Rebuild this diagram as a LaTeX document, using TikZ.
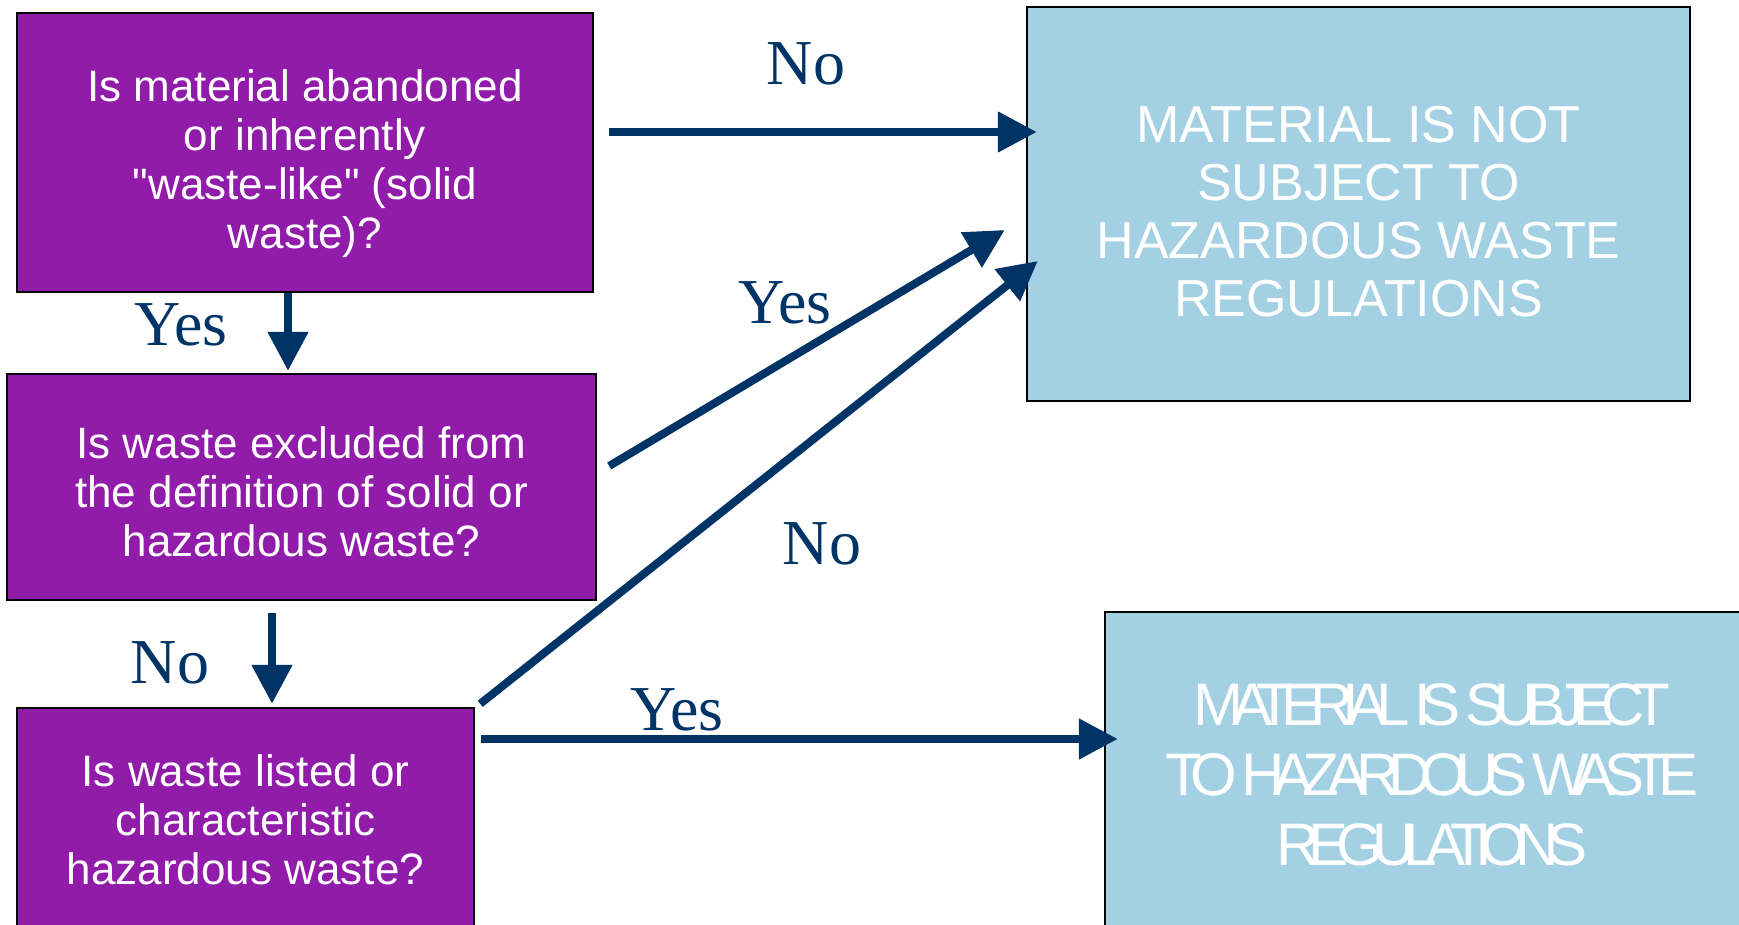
\documentclass[tikz,border=0pt]{standalone}
\usepackage{fontspec}
\setmainfont{Liberation Sans}[Ligatures=TeXOff]
\newfontfamily\lblfont{Liberation Serif}
\newfontfamily\tightfont[LetterSpace=-19]{Liberation Sans}
\usetikzlibrary{arrows.meta,calc}
\definecolor{qpurple}{RGB}{146,28,170}
\definecolor{rblue}{RGB}{163,209,227}
\definecolor{navy}{RGB}{0,51,102}
\tikzset{
  qbox/.style={draw=black,line width=1.2pt,fill=qpurple,inner sep=0pt},
  qtext/.style={text=white,align=center,inner sep=0pt,font=\fontsize{22}{24.5}\selectfont},
  rbox/.style={draw=black,line width=1.2pt,fill=rblue,inner sep=0pt},
  rtext/.style={text=white,align=center,inner sep=0pt},
  arr/.style={draw=navy,line width=4pt,-{Triangle[length=19.5pt,width=19.5pt]}},
  lbl/.style={text=navy,inner sep=0pt,font=\lblfont\fontsize{32}{36}\selectfont},
}
\begin{document}
\begin{tikzpicture}[x=0.5pt,y=-0.5pt]
\useasboundingbox (0,0) rectangle (1739,925);
\clip (0,0) rectangle (1739,925);
\node[qbox,minimum width=288pt,minimum height=139.5pt] (A) at (305,152.5) {};
\node[qtext] (At) at ($(A.center)+(0,11)$)
  {Is material abandoned\\or inherently\\"waste-like" (solid\\waste)?};
\node[qbox,minimum width=294.5pt,minimum height=113pt] (B) at (301.5,487) {};
\node[qtext] (Bt) at ($(B.center)+(0,5)$)
  {Is waste excluded from\\the definition of solid or\\hazardous waste?};
\node[qbox,minimum width=228.5pt,minimum height=112pt] (C) at (245.5,820) {};
\node[qtext] (Ct) at (C.center)
  {Is waste listed or\\characteristic\\hazardous waste?};
\node[rbox,minimum width=331.5pt,minimum height=197pt] (D) at (1358.5,204) {};
\node[rtext,font=\fontsize{26}{29}\selectfont] (Dt) at ($(D.center)+(0,8)$)
  {MATERIAL IS NOT\\SUBJECT TO\\HAZARDOUS WASTE\\REGULATIONS};
\node[rbox,minimum width=327pt,minimum height=165pt] (E) at (1432,777) {};
\node[rtext,font=\tightfont\fontsize{30}{35}\selectfont] (Et) at ($(E.center)+(0,-2)$)
  {MATERIAL IS SUBJECT\\TO HAZARDOUS WASTE\\REGULATIONS};

\draw[arr] ($(A.east)+(15,-20.5)$) -- ($(D.west)+(11,-72)$);
\draw[arr] ($(A.south)+(-17,0)$) -- ($(B.north)+(-13.5,-2)$);
\draw[arr] ($(B.east)+(12,-21)$) -- ($(D.west)+(-21,26)$);
\draw[arr] ($(C.north east)+(5,-3)$) -- ($(D.west)+(12,57)$);
\draw[arr] ($(B.south)+(-29.5,12)$) -- ($(C.north)+(26.5,-3)$);
\draw[arr] ($(C.east)+(6,-81)$) -- ($(E.west)+(14,-38)$);

\node[lbl] (l1) at (806,64) {No};
\node[lbl] (l2) at (181,325) {Yes};
\node[lbl] (l3) at (785,303) {Yes};
\node[lbl] (l4) at (822,544) {No};
\node[lbl] (l5) at (170,663) {No};
\node[lbl] (l6) at (677,710) {Yes};
\end{tikzpicture}
\end{document}
